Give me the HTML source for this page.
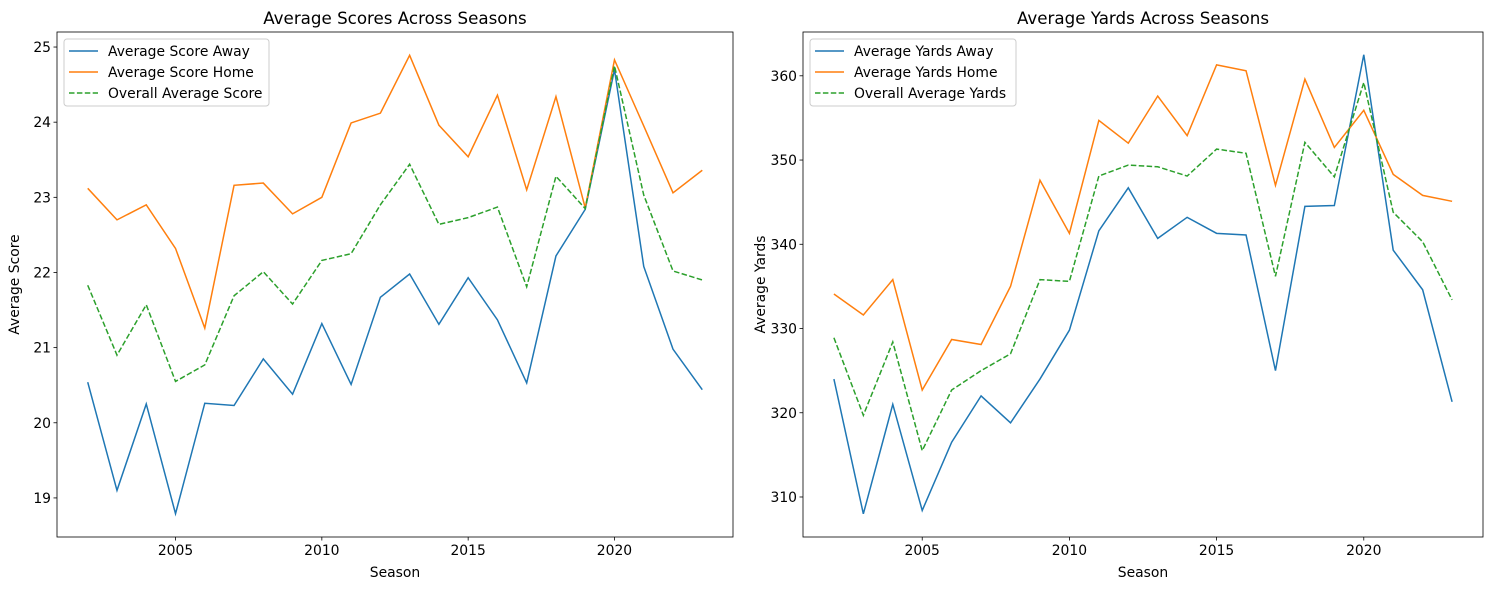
<!DOCTYPE html>
<html><head><meta charset="utf-8"><style>
body{margin:0;background:#fff;font-family:"Liberation Sans","DejaVu Sans",sans-serif;}
svg text{font-family:"DejaVu Sans","Liberation Sans",sans-serif;}
</style></head><body>
<svg id="s" width="1490" height="590" xmlns="http://www.w3.org/2000/svg"></svg>
<script>
const years=[2002,2003,2004,2005,2006,2007,2008,2009,2010,2011,2012,2013,2014,2015,2016,2017,2018,2019,2020,2021,2022,2023];
const scoreAway=[20.54,19.1,20.25,18.79,20.26,20.23,20.85,20.38,21.32,20.51,21.67,21.98,21.31,21.93,21.37,20.53,22.22,22.84,24.7,22.08,20.98,20.44];
const scoreHome=[23.12,22.7,22.9,22.32,21.26,23.16,23.19,22.78,23.0,23.99,24.12,24.89,23.96,23.54,24.36,23.1,24.34,22.86,24.83,23.95,23.06,23.36];
const scoreAll=[21.83,20.9,21.57,20.55,20.77,21.69,22.01,21.58,22.16,22.25,22.9,23.44,22.64,22.73,22.87,21.81,23.28,22.85,24.75,23.03,22.02,21.9];
const yardsAway=[324,308,321,308.4,316.5,322,318.8,324,329.8,341.6,346.7,340.7,343.2,341.3,341.1,325,344.5,344.6,362.5,339.3,334.6,321.3];
const yardsHome=[334.1,331.6,335.8,322.7,328.7,328.1,335,347.6,341.3,354.7,352,357.6,352.9,361.3,360.6,347,359.6,351.5,355.9,348.3,345.8,345.1];
const yardsAll=[328.9,319.7,328.4,315.5,322.7,325,327,335.8,335.6,348.1,349.4,349.2,348.1,351.3,350.8,336.2,352.1,348,359.2,343.8,340.3,333.4];
const xTicks=[2005,2010,2015,2020];
const scoreTicks=[19,20,21,22,23,24,25];
const yardsTicks=[310,320,330,340,350,360];
const NS='http://www.w3.org/2000/svg';
const svg=document.getElementById('s');
function el(t,a,p){const e=document.createElementNS(NS,t);for(const k in a)e.setAttribute(k,a[k]);(p||svg).appendChild(e);return e;}
function panel(cfg){
  const L=cfg.left,R=cfg.right,T=32,B=537;
  const g=el('g',{});
  
  
  const xs=v=>L+(v-2000.95)/(2024.05-2000.95)*(R-L);
  const ys=v=>B-(v-cfg.ymin)/(cfg.ymax-cfg.ymin)*(B-T);
  const colors=['#1f77b4','#ff7f0e','#2ca02c'];
  cfg.series.forEach((s,i)=>{
    const p=el('polyline',{points:s.map((v,j)=>xs(years[j])+','+ys(v)).join(' '),fill:'none',stroke:colors[i],'stroke-width':1.5,'stroke-dasharray':i==2?'5.5,2.4':'none'},g);
    
    
  });
  const fr=el('rect',{x:L,y:T,width:R-L,height:B-T,fill:'none',stroke:'#000','stroke-width':0.8},g);
  
  
  xTicks.forEach(t=>{const x=xs(t);el('line',{x1:x,x2:x,y1:B,y2:B+3.5,stroke:'#000','stroke-width':0.8},g);
    const tx=el('text',{x:x,y:B+18,'font-size':13.9,'text-anchor':'middle'},g);tx.textContent=t;
    
    });
  cfg.ticks.forEach(t=>{const y=ys(t);el('line',{x1:L-3.5,x2:L,y1:y,y2:y,stroke:'#000','stroke-width':0.8},g);
    const tx=el('text',{x:L-6,y:y+5,'font-size':13.9,'text-anchor':'end'},g);tx.textContent=t;
    
    });
  const ti=el('text',{x:(L+R)/2,y:24,'font-size':16.7,'text-anchor':'middle'},g);ti.textContent=cfg.title;
  
  
  const xl=el('text',{x:(L+R)/2,y:577,'font-size':13.9,'text-anchor':'middle'},g);xl.textContent='Season';
  
  
  const yl=el('text',{x:0,y:0,'font-size':13.9,'text-anchor':'middle',transform:`translate(${L-38},${(T+B)/2}) rotate(-90)`},g);yl.textContent=cfg.ylabel;
  
  
  const lg=el('g',{},g);
  
  
  el('rect',{x:L+7,y:T+7,width:cfg.lw,height:67,rx:3,fill:'#fff','fill-opacity':0.8,stroke:'#ccc'},lg);
  cfg.labels.forEach((lb,i)=>{const y=T+19+i*21;
    el('line',{x1:L+12,x2:L+41,y1:y,y2:y,stroke:colors[i],'stroke-width':1.5,'stroke-dasharray':i==2?'5.5,2.4':'none'},lg);
    const t=el('text',{x:L+51,y:y+5,'font-size':13.9},lg);t.textContent=lb;
    
    });
}
panel({name:'scores-panel',left:57,right:733,ymin:18.48,ymax:25.2,ticks:scoreTicks,series:[scoreAway,scoreHome,scoreAll],
  labels:['Average Score Away','Average Score Home','Overall Average Score'],title:'Average Scores Across Seasons',ylabel:'Average Score',lw:205});
panel({name:'yards-panel',left:803,right:1483,ymin:305.25,ymax:365.2,ticks:yardsTicks,series:[yardsAway,yardsHome,yardsAll],
  labels:['Average Yards Away','Average Yards Home','Overall Average Yards'],title:'Average Yards Across Seasons',ylabel:'Average Yards',lw:206});
</script>
</body></html>
